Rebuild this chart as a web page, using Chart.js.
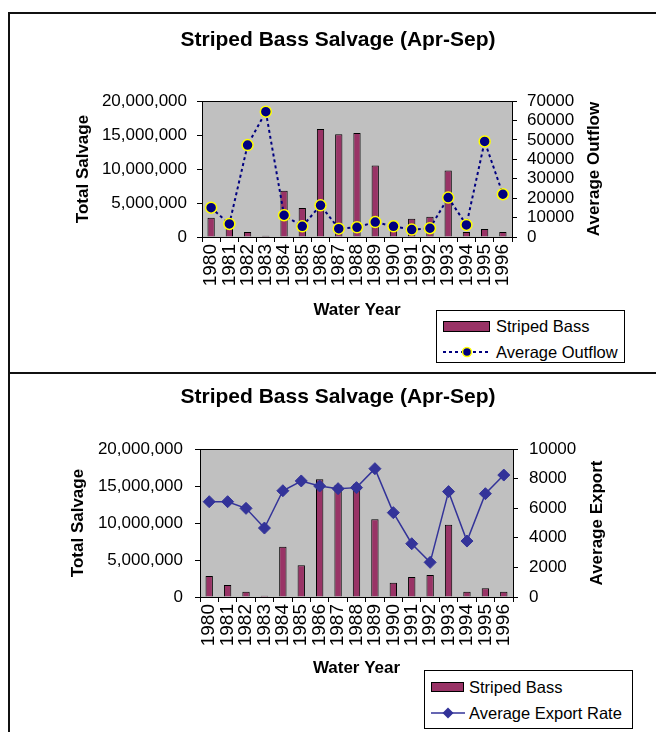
<!DOCTYPE html>
<html>
<head>
<meta charset="utf-8">
<script src="https://cdn.jsdelivr.net/npm/chart.js@4.4.1/dist/chart.umd.min.js"></script>
<style>
  html, body { margin: 0; padding: 0; background: #fff; }
  body { width: 656px; height: 732px; position: relative; overflow: hidden; font-family: "Liberation Sans", Arial, sans-serif; }
  .wrap { position: absolute; left: 0; width: 656px; }
  .line { position: absolute; background: #111; }
  .legend { position: absolute; border: 1px solid #000; background: #fff; box-sizing: border-box; }
  .legend .row { position: absolute; left: 0; height: 20px; display: flex; align-items: center; font-size: 16.5px; color: #000; white-space: nowrap; }
  .legend .sw { display: inline-block; background: #993366; border: 1px solid #000; box-sizing: border-box; }
</style>
</head>
<body>
<div class="wrap" style="top:0;height:372px"><canvas id="c1" width="656" height="372"></canvas></div>
<div class="wrap" style="top:373px;height:359px"><canvas id="c2" width="656" height="359"></canvas></div>

<div class="line" style="left:8px;top:12px;width:2px;height:720px"></div>
<div class="line" style="left:8px;top:12px;width:648px;height:2px"></div>
<div class="line" style="left:8px;top:372px;width:648px;height:2px"></div>

<div class="legend" style="left:436px;top:310px;width:189px;height:53px">
  <div class="row" style="top:5px;left:6px"><span class="sw" style="width:47px;height:11px;margin-right:6px"></span>Striped Bass</div>
  <div class="row" style="top:31px;left:5px">
    <svg width="50" height="14" style="margin-right:4px">
      <line x1="1" y1="7" x2="49" y2="7" stroke="#000080" stroke-width="2" stroke-dasharray="3,3"/>
      <circle cx="25" cy="7" r="4.5" fill="#000080" stroke="#FFFF00" stroke-width="1.5"/>
    </svg>Average Outflow</div>
</div>

<div class="legend" style="left:424px;top:670px;width:209px;height:59px">
  <div class="row" style="top:6px;left:6px"><span class="sw" style="width:33px;height:10px;margin-right:5px"></span>Striped Bass</div>
  <div class="row" style="top:32px;left:5px">
    <svg width="36" height="14" style="margin-right:3px">
      <line x1="1" y1="7" x2="35" y2="7" stroke="#333399" stroke-width="1.5"/>
      <polygon points="18,1.5 23.5,7 18,12.5 12.5,7" fill="#333399"/>
    </svg>Average Export Rate</div>
</div>

<script>
// values
const years = ['1980','1981','1982','1983','1984','1985','1986','1987','1988','1989','1990','1991','1992','1993','1994','1995','1996'];
const stripedBass = [2840000, 1620000, 720000, 180000, 6800000, 4280000, 15900000, 15100000, 15300000, 10500000, 1940000, 2700000, 2970000, 9770000, 720000, 1170000, 720000];
const avgOutflow = [15100, 6700, 47300, 64500, 11200, 5500, 16300, 4300, 5000, 7700, 5500, 3800, 4500, 20300, 6200, 49200, 22000];
const avgExport = [6440, 6440, 5990, 4660, 7180, 7840, 7500, 7320, 7390, 8670, 5700, 3600, 2340, 7120, 3780, 6980, 8240];

const salvageTicks = [0, 5000000, 10000000, 15000000, 20000000];
const outflowTicks = [0, 10000, 20000, 30000, 40000, 50000, 60000, 70000];
const exportTicks = [0, 2000, 4000, 6000, 8000, 10000];

Chart.defaults.font.family = '"Liberation Sans", Arial, sans-serif';
Chart.defaults.color = '#000';
Chart.defaults.animation = false;

const plotBg = {
  id: 'plotBg',
  beforeDraw(chart) {
    const a = chart.chartArea, ctx = chart.ctx;
    ctx.save();
    ctx.fillStyle = '#C0C0C0';
    ctx.fillRect(a.left, a.top, a.right - a.left, a.bottom - a.top);
    ctx.restore();
  },
  afterDraw(chart, args, opts) {
    const a = chart.chartArea, ctx = chart.ctx;
    ctx.save();
    ctx.strokeStyle = '#000';
    ctx.lineWidth = 1;
    ctx.beginPath();
    ctx.moveTo(a.left, a.top + 0.5);
    ctx.lineTo(a.right, a.top + 0.5);
    ctx.stroke();
    // right axis title, reading bottom to top like the original
    ctx.translate(opts.rightTitleX, (a.top + a.bottom) / 2);
    ctx.rotate(-Math.PI / 2);
    ctx.font = 'bold 17px "Liberation Sans", Arial, sans-serif';
    ctx.fillStyle = '#000';
    ctx.textAlign = 'center';
    ctx.textBaseline = 'middle';
    ctx.fillText(opts.rightTitle, 0, 0);
    ctx.restore();
  }
};

function makeChart(id, cfg) {
  const tickFont = { size: 17 };
  const titleFont = { size: 17, weight: 'bold' };
  const axisGrid = { display: true, drawOnChartArea: false, drawTicks: true, tickLength: 5, color: '#000' };
  return new Chart(document.getElementById(id), {
    data: {
      labels: years,
      datasets: [
        {
          type: 'bar', label: 'Striped Bass', data: stripedBass, yAxisID: 'y', order: 2,
          backgroundColor: '#993366', borderColor: '#000', borderWidth: 1,
          categoryPercentage: 1, barPercentage: 0.4
        },
        Object.assign({ type: 'line', yAxisID: 'y1', order: 1, tension: 0 }, cfg.line)
      ]
    },
    options: {
      responsive: false,
      layout: { padding: { left: 20, right: 0, top: 0, bottom: 0 } },
      plugins: {
        legend: { display: false },
        tooltip: { enabled: false },
        title: {
          display: true, text: 'Striped Bass Salvage (Apr-Sep)',
          font: { size: 21, weight: 'bold' }, color: '#000',
          padding: cfg.titlePad
        },
        plotBg: { rightTitle: cfg.rightTitle, rightTitleX: cfg.rightTitleX }
      },
      scales: {
        x: {
          grid: axisGrid, border: { color: '#000', width: 1 },
          ticks: { font: { size: 19 }, minRotation: 90, maxRotation: 90, autoSkip: false, padding: 2 },
          title: { display: true, text: 'Water Year', font: titleFont, padding: { bottom: cfg.xTitlePad } },
          afterFit(s) { s.height = cfg.xHeight; }
        },
        y: {
          position: 'left', min: 0, max: 20000000,
          grid: axisGrid, border: { color: '#000', width: 1 },
          afterBuildTicks(s) { s.ticks = salvageTicks.map(v => ({ value: v })); },
          ticks: { font: tickFont, padding: cfg.yTickPad, autoSkip: false, callback: v => v.toLocaleString('en-US') },
          title: { display: true, text: 'Total Salvage', font: titleFont, padding: { top: cfg.yTitlePad } },
          afterFit(s) { s.width = cfg.yWidth; }
        },
        y1: {
          position: 'right', min: 0, max: cfg.rightTicks[cfg.rightTicks.length - 1],
          grid: axisGrid, border: { color: '#000', width: 1 },
          afterBuildTicks(s) { s.ticks = cfg.rightTicks.map(v => ({ value: v })); },
          ticks: { font: tickFont, padding: cfg.y1TickPad, autoSkip: false, callback: v => String(v) },
          title: { display: false },
          afterFit(s) { s.width = cfg.y1Width; }
        }
      }
    },
    plugins: [plotBg]
  });
}

makeChart('c1', {
  titlePad: { top: 27.5, bottom: 48.3 },
  xHeight: 135, xTitlePad: 51.8,
  yWidth: 182, yTitlePad: 52.8, yTickPad: 10,
  y1Width: 144, y1TickPad: 10,
  rightTicks: outflowTicks, rightTitle: 'Average Outflow', rightTitleX: 594,
  line: {
    label: 'Average Outflow', data: avgOutflow,
    borderColor: '#000080', borderWidth: 2, borderDash: [3, 3],
    pointStyle: 'circle', pointRadius: 5.5,
    pointBackgroundColor: '#000080', pointBorderColor: '#FFFF00', pointBorderWidth: 1.5
  }
});

makeChart('c2', {
  titlePad: { top: 11.5, bottom: 39.3 },
  xHeight: 135, xTitlePad: 53.8,
  yWidth: 180, yTitlePad: 47.8, yTickPad: 12,
  y1Width: 143, y1TickPad: 11,
  rightTicks: exportTicks, rightTitle: 'Average Export', rightTitleX: 597,
  line: {
    label: 'Average Export Rate', data: avgExport,
    borderColor: '#333399', borderWidth: 1.5,
    pointStyle: 'rectRot', pointRadius: 6,
    pointBackgroundColor: '#333399', pointBorderColor: '#333399', pointBorderWidth: 1
  }
});
</script>
</body>
</html>
